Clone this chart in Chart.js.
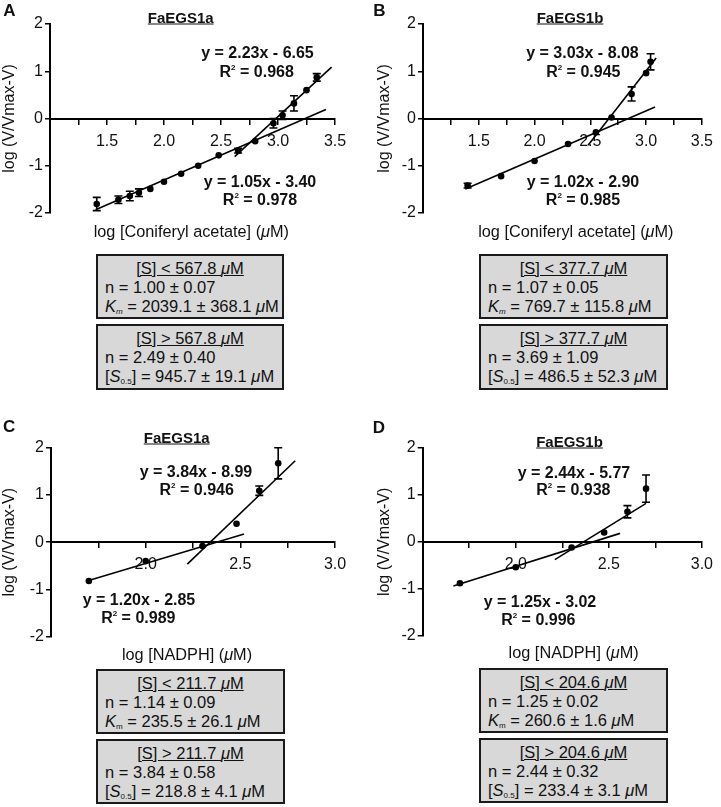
<!DOCTYPE html>
<html>
<head>
<meta charset="utf-8">
<script src="https://cdn.jsdelivr.net/npm/chart.js@4.4.1/dist/chart.umd.min.js"></script>
<style>
  body { margin: 0; background: #fff; }
  #fig { position: relative; width: 721px; height: 807px; overflow: hidden;
         font-family: 'Liberation Sans', Arial, Helvetica, sans-serif; color: #111; }
  canvas { position: absolute; }
  .t { position: absolute; white-space: nowrap; transform: translate(-50%, -50%); line-height: 1; }
  .letter { font-size: 17px; font-weight: bold; }
  .title { font-size: 15px; font-weight: bold; text-decoration: underline; }
  .xt { font-size: 16.3px; }
  .eq { font-size: 16px; font-weight: bold; }
  .eq sup { font-size: 8px; vertical-align: 7px; }
  .box { position: absolute; box-sizing: border-box; border: 2px solid #1a1a1a; background: #d8d8d8;
         font-size: 16.5px; line-height: 19.2px; padding: 3px 0 0 7px; white-space: nowrap; }
  .box .hd { text-align: center; margin-left: -7px; }
  .box .hd span { text-decoration: underline; }
  .box sub { font-size: 8px; vertical-align: -2px; }
</style>
</head>
<body>
<div id="fig"></div>
<script>
const FONT = "'Liberation Sans', Arial, Helvetica, sans-serif";

// Panel A - FaEGS1a, coniferyl acetate
const aX   = [1.41, 1.60, 1.70, 1.78, 1.88, 2.00, 2.15, 2.30, 2.48, 2.65, 2.80, 2.96, 3.04, 3.14, 3.25, 3.34];
const aY   = [-1.81, -1.72, -1.64, -1.57, -1.49, -1.34, -1.17, -1.00, -0.78, -0.68, -0.48, -0.10, 0.07, 0.32, 0.60, 0.87];
const aErr = [0.14, 0.08, 0.10, 0.08, 0, 0, 0, 0, 0, 0.05, 0, 0.10, 0.09, 0.16, 0, 0.08];
const aSlope = [1.05, 2.23];
const aIntercept = [-3.40, -6.65];
const aFrom = [1.40, 2.62];
const aTo = [3.42, 3.47];
const aR2 = ['0.978', '0.968'];

// Panel B - FaEGS1b, coniferyl acetate
const bX   = [1.40, 1.70, 2.00, 2.30, 2.55, 2.69, 2.87, 3.00, 3.04];
const bY   = [-1.42, -1.22, -0.90, -0.54, -0.29, 0.02, 0.52, 0.96, 1.20];
const bErr = [0.05, 0, 0, 0, 0, 0, 0.15, 0, 0.17];
const bSlope = [1.02, 3.03];
const bIntercept = [-2.90, -8.08];
const bFrom = [1.38, 2.48];
const bTo = [3.08, 3.09];
const bR2 = ['0.985', '0.945'];

// Panel C - FaEGS1a, NADPH
const cX   = [1.70, 2.00, 2.30, 2.48, 2.60, 2.70];
const cY   = [-0.82, -0.40, -0.08, 0.39, 1.09, 1.67];
const cErr = [0, 0, 0, 0, 0.10, 0.33];
const cSlope = [1.20, 3.84];
const cIntercept = [-2.85, -8.99];
const cFrom = [1.69, 2.22];
const cTo = [2.52, 2.79];
const cR2 = ['0.989', '0.946'];

// Panel D - FaEGS1b, NADPH
const dX   = [1.70, 2.00, 2.30, 2.475, 2.60, 2.70];
const dY   = [-0.88, -0.54, -0.12, 0.20, 0.64, 1.13];
const dErr = [0, 0, 0, 0, 0.13, 0.29];
const dSlope = [1.25, 2.44];
const dIntercept = [-3.02, -5.77];
const dFrom = [1.665, 2.21];
const dTo = [2.56, 2.70];
const dR2 = ['0.996', '0.938'];

// kinetic parameter boxes
const thresholds = ['567.8', '377.7', '211.7', '204.6'];
const nLow  = ['1.00 ± 0.07', '1.07 ± 0.05', '1.14 ± 0.09', '1.25 ± 0.02'];
const kmLow = ['2039.1 ± 368.1', '769.7 ± 115.8', '235.5 ± 26.1', '260.6 ± 1.6'];
const nHigh = ['2.49 ± 0.40', '3.69 ± 1.09', '3.84 ± 0.58', '2.44 ± 0.32'];
const s05   = ['945.7 ± 19.1', '486.5 ± 52.3', '218.8 ± 4.1', '233.4 ± 3.1'];

const letters = ['A', 'B', 'C', 'D'];
const enzymes = ['FaEGS1a', 'FaEGS1b', 'FaEGS1a', 'FaEGS1b'];
const xTitles = ['log [Coniferyl acetate] (<i>μ</i>M)', 'log [Coniferyl acetate] (<i>μ</i>M)',
                 'log [NADPH] (<i>μ</i>M)', 'log [NADPH] (<i>μ</i>M)'];
const yTitle = 'log (V/Vmax-V)';

const fig = document.getElementById('fig');

function fmt(v) { return (v < 0 ? '- ' + (-v).toFixed(2) : '+ ' + v.toFixed(2)); }

function fitLine(m, b, x0, x1) {
  return [{x: x0, y: m * x0 + b}, {x: x1, y: m * x1 + b}];
}

function text(html, cx, cy, cls) {
  const d = document.createElement('div');
  d.className = 't ' + cls;
  d.innerHTML = html;
  d.style.left = cx + 'px';
  d.style.top = cy + 'px';
  fig.appendChild(d);
}

// vertical error bars with caps
const errorBars = {
  id: 'errorBars',
  afterDatasetsDraw(chart) {
    const {ctx, scales: {x, y}} = chart;
    ctx.save();
    ctx.strokeStyle = '#000';
    ctx.lineWidth = 1.6;
    chart.data.datasets[0].data.forEach(p => {
      if (!p.err) return;
      const px = x.getPixelForValue(p.x);
      const top = y.getPixelForValue(p.y + p.err);
      const bot = y.getPixelForValue(p.y - p.err);
      ctx.beginPath();
      ctx.moveTo(px, top); ctx.lineTo(px, bot);
      ctx.moveTo(px - 4, top); ctx.lineTo(px + 4, top);
      ctx.moveTo(px - 4, bot); ctx.lineTo(px + 4, bot);
      ctx.stroke();
    });
    ctx.restore();
  }
};

function drawPanel(p) {
  const cv = document.createElement('canvas');
  cv.width = p.w; cv.height = p.h;
  cv.style.left = p.l + 'px';
  cv.style.top = p.t + 'px';
  fig.appendChild(cv);

  const pts = p.xs.map((x, i) => ({x: x, y: p.ys[i], err: p.errs[i]}));
  const datasets = [{
    data: pts, backgroundColor: '#000', borderWidth: 0, pointRadius: 3.3, order: 0
  }];
  p.slopes.forEach((m, i) => {
    datasets.push({
      data: fitLine(m, p.intercepts[i], p.from[i], p.to[i]),
      showLine: true, borderColor: '#000', borderWidth: 1.6, pointRadius: 0, order: 1
    });
  });

  const tickFont = {size: 16, family: FONT};
  new Chart(cv, {
    type: 'scatter',
    data: {datasets: datasets},
    options: {
      responsive: false,
      animation: false,
      events: [],
      layout: {padding: p.pad},
      plugins: {legend: {display: false}, tooltip: {enabled: false}},
      scales: {
        x: {
          type: 'linear',
          position: {y: 0},
          min: p.xMin, max: p.xMax,
          ticks: {
            stepSize: 0.25, autoSkip: false, maxRotation: 0, padding: 8,
            color: '#111', font: tickFont,
            callback: v => (Math.abs(v * 2 - Math.round(v * 2)) < 1e-9 && v > p.xMin + 1e-9) ? v.toFixed(1) : ''
          },
          grid: {drawOnChartArea: false, tickLength: 5, color: '#000', lineWidth: 1.5},
          border: {color: '#000', width: 2},
          afterFit: s => { s.height = 0; }
        },
        y: {
          min: -2, max: 2,
          ticks: {stepSize: 1, padding: 2, color: '#111', font: tickFont, callback: v => String(v)},
          grid: {drawOnChartArea: false, tickLength: 5, color: '#000', lineWidth: 1.5},
          border: {color: '#000', width: 2},
          title: {display: true, text: yTitle, color: '#111', font: {size: 16, family: FONT}, padding: 0},
          afterFit: s => { s.width = p.yw; }
        }
      }
    },
    plugins: [errorBars]
  });
}

drawPanel({l: 0, t: 0, w: 360, h: 230, pad: {left: 0, right: 25, top: 24, bottom: 17}, yw: 50,
  xMin: 1.0, xMax: 3.5, xs: aX, ys: aY, errs: aErr,
  slopes: aSlope, intercepts: aIntercept, from: aFrom, to: aTo});
drawPanel({l: 360, t: 0, w: 361, h: 230, pad: {left: 15, right: 13, top: 24, bottom: 17}, yw: 48,
  xMin: 1.0, xMax: 3.5, xs: bX, ys: bY, errs: bErr,
  slopes: bSlope, intercepts: bIntercept, from: bFrom, to: bTo});
drawPanel({l: 0, t: 400, w: 360, h: 260, pad: {left: 0, right: 25, top: 47.7, bottom: 23.3}, yw: 51,
  xMin: 1.5, xMax: 3.0, xs: cX, ys: cY, errs: cErr,
  slopes: cSlope, intercepts: cIntercept, from: cFrom, to: cTo});
drawPanel({l: 360, t: 400, w: 361, h: 260, pad: {left: 15, right: 14.3, top: 47.7, bottom: 24}, yw: 47.7,
  xMin: 1.5, xMax: 3.0, xs: dX, ys: dY, errs: dErr,
  slopes: dSlope, intercepts: dIntercept, from: dFrom, to: dTo});

// letters, enzyme titles, x-axis titles
const letterPos = [[9.5, 9.5], [379.5, 9.5], [9.2, 426], [379, 427]];
const titlePos = [[180.7, 17], [570, 17], [176.7, 437], [569.5, 441]];
const xTitlePos = [[191.3, 231], [575.8, 231], [187, 653.5], [573.7, 651.7]];
letters.forEach((s, i) => text(s, letterPos[i][0], letterPos[i][1], 'letter'));
enzymes.forEach((s, i) => text(s, titlePos[i][0], titlePos[i][1], 'title'));
xTitles.forEach((s, i) => text(s, xTitlePos[i][0], xTitlePos[i][1], 'xt'));

// regression equations: [lower fit, upper fit] label centers per panel
const eqPos = [
  [[260, 181.7, 260, 200], [257.5, 53.3, 256.7, 71.7]],
  [[583, 181.7, 583, 200], [582.5, 53.3, 583.3, 71.7]],
  [[139, 600, 138.3, 618.3], [196, 471.7, 196.7, 490]],
  [[540, 601.7, 538.3, 620], [574, 472.7, 573.3, 490]]
];
const allSlopes = [aSlope, bSlope, cSlope, dSlope];
const allIntercepts = [aIntercept, bIntercept, cIntercept, dIntercept];
const allR2 = [aR2, bR2, cR2, dR2];
eqPos.forEach((pair, i) => {
  pair.forEach((q, j) => {
    text('y = ' + allSlopes[i][j].toFixed(2) + 'x ' + fmt(allIntercepts[i][j]), q[0], q[1], 'eq');
    text('R<sup>2</sup> = ' + allR2[i][j], q[2], q[3], 'eq');
  });
});

// kinetic parameter boxes
const boxPos = [
  [96, 254, 188, 65, 324, 66],
  [479, 254, 189, 65, 324, 66],
  [96, 669, 189, 65, 739, 65],
  [479, 668, 189, 65, 738, 65]
];
function box(l, t, w, h, html) {
  const d = document.createElement('div');
  d.className = 'box';
  d.style.left = l + 'px'; d.style.top = t + 'px';
  d.style.width = w + 'px'; d.style.height = h + 'px';
  d.innerHTML = html;
  fig.appendChild(d);
}
boxPos.forEach((b, i) => {
  const km = i < 2 ? '<i>K<sub>m</sub></i>' : '<i>K</i><sub>m</sub>';
  box(b[0], b[1], b[2], b[3],
    '<div class="hd"><span>[S] &lt; ' + thresholds[i] + ' <i>μ</i>M</span></div>' +
    '<div>n = ' + nLow[i] + '</div>' +
    '<div>' + km + ' = ' + kmLow[i] + ' <i>μ</i>M</div>');
  box(b[0], b[4], b[2], b[5],
    '<div class="hd"><span>[S] &gt; ' + thresholds[i] + ' <i>μ</i>M</span></div>' +
    '<div>n = ' + nHigh[i] + '</div>' +
    '<div>[<i>S</i><sub>0.5</sub>] = ' + s05[i] + ' <i>μ</i>M</div>');
});
</script>
</body>
</html>
